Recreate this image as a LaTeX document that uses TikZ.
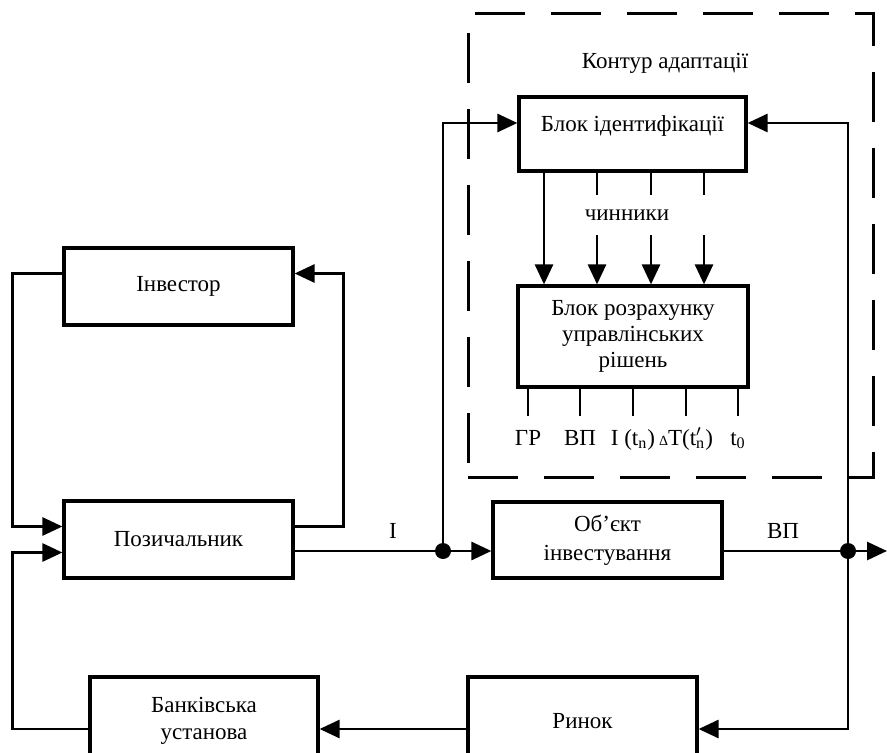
\documentclass[tikz,border=0pt]{standalone}
\usepackage{fontspec}
\setmainfont{Liberation Serif}
\usepackage{tikz}
\usetikzlibrary{arrows.meta,shapes}
\tikzset{
  blockbox/.style={draw,line width=1.6pt,minimum width=114.5pt,minimum height=38.5pt,align=center,inner sep=2pt},
  flow/.style={line width=1.4pt},
  sig/.style={anchor=base,text height=8pt,inner sep=6.5pt},
}

\begin{document}
\begin{tikzpicture}[x=0.5pt,y=-0.5pt,>={Triangle[length=10pt,width=9pt]},font={\fontsize{11.5}{13.5}\selectfont}]
\useasboundingbox (0,0) rectangle (887,753);
\node (Contour) at (670.5,245.5)[draw,line width=1.5pt,dash pattern=on 25pt off 13pt,minimum width=202.5pt,minimum height=231.5pt] {};
\node (ContourLbl) at (665,63) {Контур адаптації};
\node (Ident) at (632.5,134)[blockbox,minimum width=113.5pt,minimum height=37pt,text depth=10pt] {Блок ідентифікації};
\node (Factors) at (627,215)[minimum height=20pt,inner sep=0pt] {чинники};
\node (Calc) at (633,336.5)[blockbox,minimum width=115pt,minimum height=50.5pt] {Блок розрахунку\\[-0.5pt]управлінських\\[-0.5pt]рішень};
\foreach \xx/\txt [count=\i] in {528/ГР,580/ВП,633/{I (t\textsubscript{n})},686/{{\scriptsize Δ}T(t\rlap{$'$}\textsubscript{n})},738/{t\textsubscript{0}}}
  \node (s\i) at (\xx,445)[sig] {\txt};
\foreach \i in {1,...,5}
  \draw[flow] (Calc.south -| s\i.north) -- (s\i.north);
\node (Inv) at (178.5,286.5)[blockbox] {Інвестор};
\node (Poz) at (178.5,539.5)[blockbox] {Позичальник};
\node (Obj) at (607.5,540)[blockbox,minimum height=38pt] {Об’єкт\\[1pt]інвестування};
\node (Bank) at (204,721)[blockbox,minimum width=114pt,minimum height=44pt] {Банківська\\установа};
\node (Rynok) at (582.5,721)[blockbox,minimum height=44pt] {Ринок};
\coordinate (J1) at (443,551);
\coordinate (J2) at (848,551);
\coordinate (Out) at (887,551);
\node (LblI) at (393,531) {I};
\node (LblVP) at (783,531) {ВП};
\draw[flow] (Poz.east |- J1) -- (J1);
\draw[flow,->] (J1) -- (Obj.west |- J1);
\draw[flow] (Obj.east |- J2) -- (J2);
\draw[flow,->] (J2) -- (Out);
\draw[flow,->] (J1) |- ([yshift=5.5pt]Ident.west);
\draw[flow,->] (J2) |- ([yshift=5.5pt]Ident.east);
\draw[flow,->] (J2) |- ([yshift=-4pt]Rynok.east);
\draw[flow,->] ([yshift=-4pt]Rynok.west) -- ([yshift=-4pt]Bank.east);
\draw[flow,->] ([yshift=-4pt]Bank.west) -- ++(-38pt,0) |- ([yshift=-6.5pt]Poz.west);
\draw[flow,->] ([yshift=6.5pt]Inv.west) -- ++(-25pt,0) |- ([yshift=6.5pt]Poz.west);
\draw[flow,->] ([yshift=6.5pt]Poz.east) -- ++(24.5pt,0) |- ([yshift=6.5pt]Inv.east);
\draw[flow,->] (Ident.south -| 544,0) -- (Calc.north -| 544,0);
\foreach \xx in {597,651,704} {
  \draw[flow] (Ident.south -| \xx,0) -- (Factors.north -| \xx,0);
  \draw[flow,->] (Factors.south -| \xx,0) -- (Calc.north -| \xx,0);
}
\fill (J1) circle (4pt);
\fill (J2) circle (4pt);
\end{tikzpicture}
\end{document}
